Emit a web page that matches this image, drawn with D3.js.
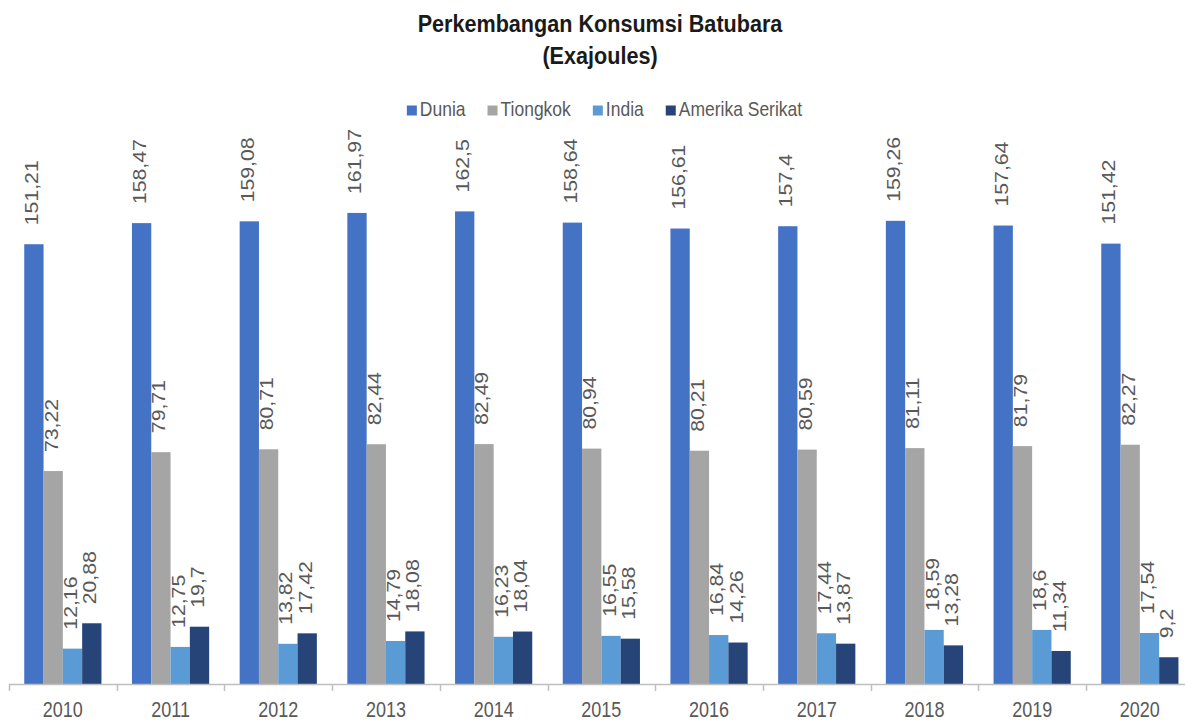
<!DOCTYPE html>
<html><head><meta charset="utf-8">
<script src="https://cdn.jsdelivr.net/npm/d3@7"></script>
<style>html,body{margin:0;padding:0;background:#fff;}svg{display:block;}</style>
</head><body>
<svg id="c" width="1185" height="722"></svg>
<script>
const years = ["2010","2011","2012","2013","2014","2015","2016","2017","2018","2019","2020"];
const seriesNames = ["Dunia","Tiongkok","India","Amerika Serikat"];
const dunia    = [151.21,158.47,159.08,161.97,162.5,158.64,156.61,157.4,159.26,157.64,151.42];
const tiongkok = [73.22,79.71,80.71,82.44,82.49,80.94,80.21,80.59,81.11,81.79,82.27];
const india    = [12.16,12.75,13.82,14.79,16.23,16.55,16.84,17.44,18.59,18.6,17.54];
const amerika  = [20.88,19.7,17.42,18.08,18.04,15.58,14.26,13.87,13.28,11.34,9.2];
const colors   = ["#4472C4","#A5A5A5","#5B9BD5","#264478"];
const titleLines = ["Perkembangan Konsumsi Batubara","(Exajoules)"];

const values = [dunia, tiongkok, india, amerika];
const svg = d3.select("#c");
const SY = 1.18; // vertical stretch of glyphs

const x0 = d3.scaleBand().domain(years).range([9, 1193.7]).padding(0);
const x1 = d3.scaleBand().domain(seriesNames).range([0, x0.bandwidth()]).paddingInner(0).paddingOuter(0.79);
const y = d3.scaleLinear().domain([0, 180]).range([684, 160.5]);

// bars
const data = [];
years.forEach((yr, i) => seriesNames.forEach((s, j) => data.push({yr, s, j, v: values[j][i]})));
svg.append("g").selectAll("rect").data(data).join("rect")
  .attr("x", d => x0(d.yr) + x1(d.s))
  .attr("y", d => y(d.v))
  .attr("width", x1.bandwidth())
  .attr("height", d => y(0) - y(d.v))
  .attr("fill", d => colors[d.j]);

// value labels
svg.append("g").selectAll("text").data(data).join("text")
  .attr("transform", d => `translate(${x0(d.yr) + x1(d.s) + x1.bandwidth()/2},${y(d.v) - 19}) scale(1,${SY}) rotate(-90)`)
  .attr("dy", 4.5)
  .attr("font-family", "Liberation Sans, Arial, sans-serif")
  .attr("font-size", 18)
  .attr("fill", "#595959")
  .text(d => String(d.v).replace(".", ","));

// x axis
const axis = svg.append("g").attr("transform", `translate(0,${y(0)})`);
axis.append("line").attr("x1", x0.range()[0]).attr("x2", x0.range()[1]).attr("y1", 0.5).attr("y2", 0.5)
  .attr("stroke", "#bfbfbf").attr("stroke-width", 1.5);
const bounds = years.map(yr => x0(yr)).concat([x0.range()[1]]);
axis.selectAll("line.t").data(bounds).join("line").attr("class","t")
  .attr("x1", d => Math.round(d) + 0.5).attr("x2", d => Math.round(d) + 0.5)
  .attr("y1", 0).attr("y2", 7).attr("stroke", "#bfbfbf").attr("stroke-width", 1.5);
axis.selectAll("text").data(years).join("text")
  .attr("transform", d => `translate(${x0(d) + x0.bandwidth()/2},33) scale(1,${SY})`)
  .attr("text-anchor", "middle")
  .attr("font-family", "Liberation Sans, Arial, sans-serif")
  .attr("font-size", 18)
  .attr("fill", "#595959")
  .text(d => d);

// title
svg.append("text")
  .attr("transform", `translate(600,32) scale(1.08,${SY})`)
  .attr("text-anchor", "middle")
  .attr("font-family", "Liberation Sans, Arial, sans-serif")
  .attr("font-weight", "bold").attr("font-size", 20).attr("fill", "#1a1a1a")
  .text(titleLines[0]);
svg.append("text")
  .attr("transform", `translate(600,64) scale(1.08,${SY})`)
  .attr("text-anchor", "middle")
  .attr("font-family", "Liberation Sans, Arial, sans-serif")
  .attr("font-weight", "bold").attr("font-size", 20).attr("fill", "#1a1a1a")
  .text(titleLines[1]);

// legend
const lg = svg.append("g");
const items = seriesNames.map((s, j) => {
  const g = lg.append("g");
  g.append("rect").attr("x", 0).attr("y", -10.5).attr("width", 10).attr("height", 10).attr("fill", colors[j]);
  const t = g.append("text").attr("transform", `translate(13,0) scale(1,1.12)`)
    .attr("font-family", "Liberation Sans, Arial, sans-serif")
    .attr("font-size", 17.5).attr("fill", "#595959").text(s);
  return {g, w: 13 + t.node().getComputedTextLength()};
});
const gap = 22;
const total = d3.sum(items, d => d.w) + gap * (items.length - 1);
let cx = 604.5 - total / 2;
items.forEach(it => { it.g.attr("transform", `translate(${cx},116)`); cx += it.w + gap; });
</script>
</body></html>
